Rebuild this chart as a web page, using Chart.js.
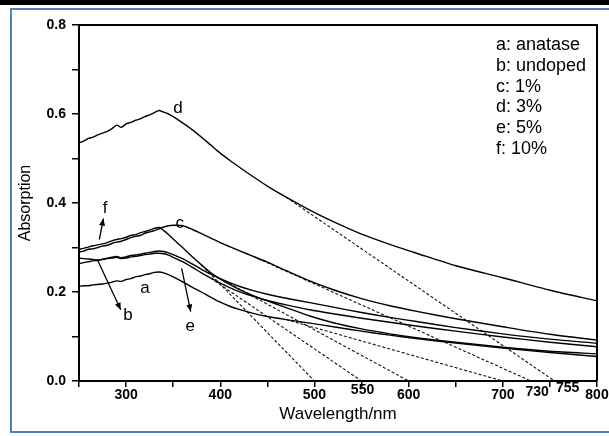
<!DOCTYPE html>
<html>
<head>
<meta charset="utf-8">
<script src="https://cdn.jsdelivr.net/npm/chart.js@4.4.1/dist/chart.umd.min.js"></script>
<style>
  html, body { margin: 0; padding: 0; background: #fff; }
</style>
</head>
<body>
<canvas id="chart_1" width="609" height="436"></canvas>
<script>
// wavelength grid (nm) shared by all spectra
const wavelengths = [250,255,260,265,270,275,280,285,290,295,300,305,310,315,320,325,330,335,340,345,350,
                     360,370,380,390,400,410,420,435,450,470,495,520,550,580,610,650,700,750,800];

// absorption
const seriesA = [0.213,0.214,0.214,0.216,0.217,0.218,0.220,0.222,0.225,0.224,0.228,0.230,0.234,0.236,0.239,0.241,0.244,0.245,0.243,0.239,0.234,
                 0.223,0.211,0.200,0.188,0.177,0.168,0.161,0.152,0.145,0.138,0.130,0.122,0.112,0.103,0.095,0.085,0.074,0.064,0.055];
const seriesB = [0.276,0.275,0.274,0.273,0.272,0.274,0.276,0.278,0.280,0.277,0.279,0.282,0.283,0.285,0.287,0.289,0.291,0.292,0.291,0.288,0.284,
                 0.275,0.263,0.251,0.240,0.230,0.221,0.213,0.203,0.195,0.186,0.176,0.166,0.154,0.143,0.133,0.120,0.106,0.094,0.085];
const seriesC = [0.290,0.292,0.296,0.297,0.300,0.303,0.305,0.309,0.312,0.314,0.318,0.322,0.325,0.327,0.332,0.335,0.338,0.342,0.346,0.349,0.350,
                 0.349,0.341,0.331,0.321,0.311,0.302,0.293,0.280,0.267,0.248,0.225,0.205,0.185,0.169,0.156,0.140,0.122,0.105,0.092];
const seriesD = [0.535,0.539,0.545,0.548,0.553,0.557,0.561,0.567,0.575,0.570,0.578,0.581,0.586,0.589,0.594,0.598,0.603,0.608,0.604,0.600,0.594,
                 0.580,0.565,0.548,0.530,0.512,0.496,0.481,0.459,0.438,0.413,0.384,0.358,0.330,0.307,0.286,0.259,0.232,0.204,0.180];
const seriesE = [0.264,0.266,0.268,0.270,0.271,0.273,0.275,0.276,0.278,0.275,0.276,0.279,0.280,0.282,0.284,0.285,0.287,0.287,0.286,0.283,0.278,
                 0.268,0.256,0.243,0.231,0.220,0.210,0.201,0.190,0.181,0.171,0.160,0.151,0.141,0.132,0.123,0.112,0.099,0.087,0.077];
const seriesF = [0.296,0.298,0.301,0.304,0.306,0.308,0.311,0.315,0.318,0.320,0.323,0.327,0.329,0.333,0.336,0.339,0.343,0.345,0.338,0.329,0.319,
                 0.300,0.280,0.261,0.243,0.229,0.217,0.206,0.192,0.180,0.165,0.146,0.131,0.117,0.106,0.097,0.087,0.076,0.067,0.061];

const curveLetters = ['a','b','c','d','e','f'];
const legendLines = ['a: anatase','b: undoped','c: 1%','d: 3%','e: 5%','f: 10%'];

// tangent lines: start wavelength on the curve, x-intercept
const tangentStart = [470, 400, 435, 470, 390, 380];
const tangentEnd = [700, 600, 730, 755, 550, 500];

// letter labels next to curves (wavelength, absorption)
const letterX = [320, 302, 357, 355, 368, 277.6];
const letterY = [0.208, 0.148, 0.354, 0.613, 0.122, 0.388];

// arrows for f, b, e
const arrowFromX = [271.6, 269.4, 359];
const arrowFromY = [0.318, 0.273, 0.253];
const arrowToX = [275.9, 294.3, 368.6];
const arrowToY = [0.365, 0.160, 0.156];

const xTickLabels = [300, 400, 500, 600, 700, 800];
const extraXLabels = [550, 730, 755];

const FONT = '"Liberation Sans", Arial, sans-serif';
const allSeries = [seriesA, seriesB, seriesC, seriesD, seriesE, seriesF];

function toPoints(vals){
    return wavelengths.map((w, i) => ({x: w, y: vals[i]}));
}

let datasets = allSeries.map((vals, i) => ({
    label: curveLetters[i],
    data: toPoints(vals),
    borderColor: '#000',
    borderWidth: 1.4,
    pointRadius: 0,
    tension: 0.25,
    fill: false
}));

tangentStart.forEach((w, i) => {
    let idx = wavelengths.indexOf(w);
    datasets.push({
        label: 'tangent ' + curveLetters[i],
        data: [{x: w, y: allSeries[i][idx]}, {x: tangentEnd[i], y: 0}],
        borderColor: '#111',
        borderWidth: 1.1,
        borderDash: [3, 2],
        pointRadius: 0,
        fill: false
    });
});

const decor = {
    id: 'decor',
    beforeDraw(chart){
        const ctx = chart.ctx;
        ctx.save();
        ctx.fillStyle = '#fff';
        ctx.fillRect(0, 0, chart.width, chart.height);
        ctx.fillStyle = '#000';
        ctx.fillRect(0, 0, chart.width, 5);
        ctx.strokeStyle = '#4f81bd';
        ctx.lineWidth = 2;
        ctx.beginPath();
        ctx.moveTo(chart.width, 9);
        ctx.lineTo(11, 9);
        ctx.lineTo(11, 432);
        ctx.lineTo(chart.width, 432);
        ctx.stroke();
        ctx.restore();
    },
    afterDraw(chart){
        const ctx = chart.ctx;
        const a = chart.chartArea;
        const x = chart.scales.x, y = chart.scales.y;
        ctx.save();
        // top and right of the box
        ctx.strokeStyle = '#000';
        ctx.lineWidth = 2;
        ctx.beginPath();
        ctx.moveTo(a.left, a.top);
        ctx.lineTo(a.right, a.top);
        ctx.lineTo(a.right, a.bottom);
        ctx.stroke();

        // curve letters
        ctx.fillStyle = '#000';
        ctx.font = '17px ' + FONT;
        ctx.textAlign = 'center';
        ctx.textBaseline = 'middle';
        curveLetters.forEach((c, i) => {
            ctx.fillText(c, x.getPixelForValue(letterX[i]), y.getPixelForValue(letterY[i]));
        });

        // arrows
        ctx.lineWidth = 1.3;
        arrowFromX.forEach((v, i) => {
            let x0 = x.getPixelForValue(v), y0 = y.getPixelForValue(arrowFromY[i]);
            let x1 = x.getPixelForValue(arrowToX[i]), y1 = y.getPixelForValue(arrowToY[i]);
            let ang = Math.atan2(y1 - y0, x1 - x0);
            ctx.beginPath();
            ctx.moveTo(x0, y0);
            ctx.lineTo(x1, y1);
            ctx.stroke();
            ctx.beginPath();
            ctx.moveTo(x1, y1);
            ctx.lineTo(x1 - 7 * Math.cos(ang) + 3 * Math.sin(ang), y1 - 7 * Math.sin(ang) - 3 * Math.cos(ang));
            ctx.lineTo(x1 - 7 * Math.cos(ang) - 3 * Math.sin(ang), y1 - 7 * Math.sin(ang) + 3 * Math.cos(ang));
            ctx.closePath();
            ctx.fill();
        });

        // legend block
        ctx.font = '18px ' + FONT;
        ctx.textAlign = 'left';
        legendLines.forEach((t, i) => {
            ctx.fillText(t, 496, 45 + i * 20.8);
        });

        // intercept labels on the x axis
        const dx = [1, 6, 13];
        const yy = [390, 392.5, 388];
        ctx.font = 'bold 14px ' + FONT;
        ctx.textAlign = 'center';
        extraXLabels.forEach((w, i) => {
            ctx.fillText(String(w), x.getPixelForValue(w) + dx[i], yy[i]);
        });
        ctx.restore();
    }
};

chart = new Chart('chart_1', {
    type: 'line',
    data: { datasets: datasets },
    options: {
        responsive: false,
        animation: false,
        layout: { padding: { left: 0, right: 12, top: 25, bottom: 0 } },
        plugins: {
            legend: { display: false },
            tooltip: { enabled: false }
        },
        scales: {
            x: {
                type: 'linear',
                min: 250,
                max: 800,
                afterFit: s => { s.height = 55; },
                ticks: {
                    stepSize: 50,
                    autoSkip: false,
                    maxRotation: 0,
                    padding: 0,
                    color: '#000',
                    font: { family: FONT, size: 14, weight: 'bold' },
                    callback: v => xTickLabels.includes(v) ? String(v) : ''
                },
                grid: { drawOnChartArea: false, drawTicks: true, tickLength: 6, color: '#000', lineWidth: 1.5 },
                border: { display: true, color: '#000', width: 2 },
                title: {
                    display: true,
                    text: 'Wavelength/nm',
                    color: '#000',
                    font: { family: FONT, size: 17 },
                    padding: { top: 0, bottom: 11 }
                }
            },
            y: {
                min: 0,
                max: 0.8,
                afterFit: s => { s.width = 79; },
                ticks: {
                    stepSize: 0.1,
                    padding: 6,
                    color: '#000',
                    font: { family: FONT, size: 14, weight: 'bold' },
                    callback: v => (Math.round(v * 10) % 2 === 0) ? v.toFixed(1) : ''
                },
                grid: { drawOnChartArea: false, drawTicks: true, tickLength: 7, color: '#000', lineWidth: 1.5 },
                border: { display: true, color: '#000', width: 2 },
                title: {
                    display: true,
                    text: 'Absorption',
                    color: '#000',
                    font: { family: FONT, size: 16 },
                    padding: { top: 16, bottom: 0 }
                }
            }
        }
    },
    plugins: [decor]
});
</script>
</body>
</html>
